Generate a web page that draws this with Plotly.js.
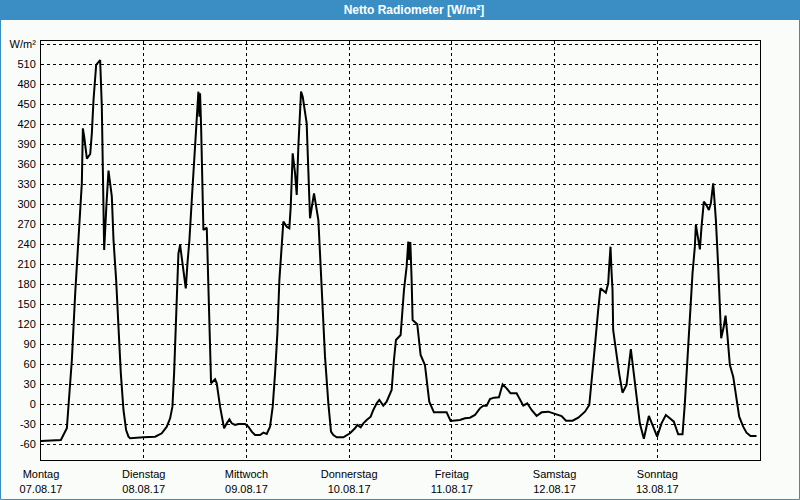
<!DOCTYPE html>
<html>
<head>
<meta charset="utf-8">
<script src="https://cdn.plot.ly/plotly-3.0.1.min.js"></script>
<style>
html,body{margin:0;padding:0;background:#fafcfa;}
#chart{width:800px;height:500px;}
</style>
</head>
<body>
<div id="chart"></div>
<script>
// Hours since Monday 07.08.17 00:00
const hours = [0,4.64,6.04,6.43,7.21,7.99,8.76,9.31,9.54,9.78,10.09,10.72,11.5,11.88,12.27,12.89,13.82,14.21,14.45,14.76,15.3,15.77,16.16,16.55,16.94,17.56,18.1,18.65,19.27,19.89,20.44,20.83,23.94,26.67,28.22,29.39,30.17,30.71,31.1,31.34,31.72,32.11,32.5,33.28,33.83,34.22,34.68,35.23,35.77,36.24,36.55,36.78,37.02,37.17,37.41,37.72,37.95,38.73,38.96,39.51,39.74,40.68,41.06,41.84,42.78,43.4,44.02,44.57,45.35,46.12,47.68,48.46,49.24,50.02,51.19,51.96,52.74,53.52,54.14,54.69,55.23,55.7,56.24,56.63,57.41,58.03,58.35,58.81,59.36,59.75,60.13,60.52,60.76,61.15,61.69,62.08,62.24,62.47,62.86,63.79,64.18,64.81,65.19,65.82,66.36,67.14,67.76,68.31,69.09,70.65,71.42,72.2,73.37,73.91,74.69,75.31,76.09,77.03,77.65,78.43,79.05,79.98,80.76,81.93,82.47,82.94,84.03,84.81,85.43,85.82,86.05,86.3,86.6,86.83,87.92,88.7,89.71,90.72,91.81,94.77,95.71,97.89,99.06,100.23,101.4,102.55,103.35,104.13,104.9,105.84,107.0,107.86,108.8,109.73,111.13,111.91,112.69,113.62,114.63,115.8,116.97,118.53,119.7,121.64,122.66,124.21,125.54,127.1,128.11,128.63,129.41,130.19,130.73,131.98,132.53,132.76,133.07,133.3,133.54,133.69,134.31,135.09,135.87,136.81,137.82,138.75,139.3,139.92,140.86,142.03,143.04,143.97,144.99,146.0,146.93,147.87,148.88,149.9,150.44,150.99,151.61,152.23,152.78,153.01,153.5,153.95,154.34,154.88,155.5,156.05,156.52,157.06,157.3,157.69,158.23,158.62,158.93,159.5,159.95,160.41,160.96,161.74,162.36,163.14,164.07,164.85,165.79,167.19];
const values = [-55.5,-54,-36.5,-4,66,166,246,306,331,413.5,401,368,375,406,456,508.5,516,446,371,231,300,350,331,311,246,186,116,46,-9,-39,-49,-51.5,-50,-49,-44,-34,-21.5,-4,46,96,171,226,238.5,201,173.5,211,246,306,366,416,446,468.5,431,466,416,346,261,264.5,206,96,31,37,31,-4,-36.5,-29,-23,-29,-31.5,-30,-30,-34,-41.5,-46.5,-46.5,-43,-45,-34,-4,46,106,186,246,273.5,266,263.5,296,376,346,313.5,386,426,468.5,461,441,421,391,346,278.5,316,301,276,226,146,71,1,-41.5,-46.5,-50,-50,-46.5,-44,-36.5,-31.5,-35,-29,-24,-19,-9,1,6,-2.5,3.5,21,66,96,103.5,171,206,243.5,216,243,186,126,119.5,73.5,58.5,3.5,-12.5,-12.5,-25.5,-24,-21.5,-20.5,-16.5,-6.5,-2.5,-2.5,7.5,9.5,10,29.5,23.5,16,16,6,-2.5,1,-9,-18,-12.5,-11.5,-14,-18,-25,-25,-20.5,-11.5,-1.5,31,86,141,173.5,167,181,206,236,200,171,111,81,46,17,28.5,82.5,31,1,-29,-52,-18,-34,-49,-29,-16.5,-21.5,-26.5,-45.5,-45.5,1,61,141,196,236,268.5,250,232,266,303.5,298,291,301,331,311,276,206,136,98.5,115,132.5,101,58.5,41,11,-19,-34,-43,-48,-48];

const dayTicks = [0,24,48,72,96,120,144];
const dayNames = ["Montag","Dienstag","Mittwoch","Donnerstag","Freitag","Samstag","Sonntag"];
const dayDates = ["07.08.17","08.08.17","09.08.17","10.08.17","11.08.17","12.08.17","13.08.17"];
const yTicks = [-60,-30,0,30,60,90,120,150,180,210,240,270,300,330,360,390,420,450,480,510,540];
const yTickText = yTicks.map(v => v === 540 ? "W/m²" : String(v));
const titleText = "Netto Radiometer [W/m²]";

const blue = "#3b8ec4";
const W = 719, H = 419, L = 41, T = 41;
const px = p => (p - L) / W;
const py = p => 1 - (p - T) / H;

const trace = {
  x: hours, y: values, type: "scatter", mode: "lines",
  line: {color: "#000000", width: 2},
  hoverinfo: "skip"
};

const layout = {
  width: 800, height: 500,
  margin: {l: 41, r: 40, t: 41, b: 40},
  paper_bgcolor: "#fafcfa",
  plot_bgcolor: "#fafcfa",
  showlegend: false,
  font: {family: "Liberation Sans, Arial, sans-serif", size: 11, color: "#000000"},
  title: {
    text: "<b>" + titleText + "</b>",
    font: {family: "Liberation Sans, Arial, sans-serif", size: 12, color: "#ffffff"},
    xref: "container", yref: "container",
    x: 414/800, xanchor: "center",
    y: 1 - 10/500, yanchor: "middle"
  },
  xaxis: {
    range: [0, 168],
    tickmode: "array",
    tickvals: dayTicks,
    ticktext: dayTicks.map((t, i) => dayNames[i] + "<br>" + dayDates[i]),
    showgrid: true, gridcolor: "#000000", gridwidth: 1, griddash: "3px,3px",
    zeroline: false,
    showline: true, linecolor: "#000000", linewidth: 1, mirror: true,
    ticks: "", ticklabelstandoff: 4,
    fixedrange: true
  },
  yaxis: {
    range: [-84, 544.5],
    tickmode: "array",
    tickvals: yTicks,
    ticktext: yTickText,
    showgrid: true, gridcolor: "#000000", gridwidth: 1, griddash: "3px,3px",
    zeroline: false,
    showline: true, linecolor: "#000000", linewidth: 1, mirror: true,
    ticks: "", ticklabelstandoff: 2,
    fixedrange: true
  },
  shapes: [
    {type: "rect", xref: "paper", yref: "paper", layer: "below",
     x0: px(0), x1: px(800), y0: py(20), y1: py(0),
     fillcolor: blue, line: {width: 0}},
    {type: "rect", xref: "paper", yref: "paper", layer: "above",
     x0: px(0.5), x1: px(799.5), y0: py(499.5), y1: py(0.5),
     fillcolor: "rgba(0,0,0,0)", line: {color: blue, width: 1}}
  ]
};

Plotly.newPlot("chart", [trace], layout, {displayModeBar: false, staticPlot: true});
</script>
</body>
</html>
